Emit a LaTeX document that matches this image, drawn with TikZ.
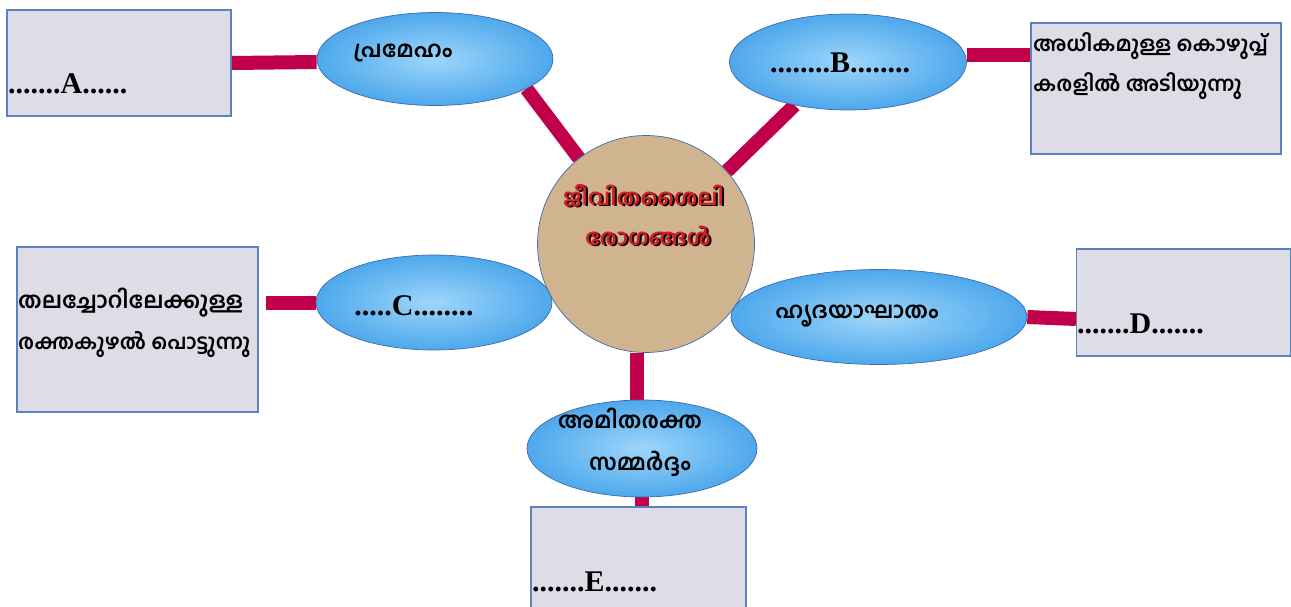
\documentclass[tikz,border=0pt]{standalone}
\usepackage{fontspec}
\setmainfont{Liberation Serif}
\newfontfamily\mlfont[Script=Malayalam]{Hind Kochi}
\usetikzlibrary{shapes.geometric,calc,backgrounds}
\definecolor{boxfill}{HTML}{DEDCE6}
\definecolor{boxline}{HTML}{5A82BE}
\definecolor{ellline}{HTML}{3C6AAE}
\definecolor{connc}{HTML}{C0004A}
\definecolor{skyA}{HTML}{9ED6FA}
\definecolor{skyB}{HTML}{4EA8EC}
\definecolor{tanc}{HTML}{D0B490}
\definecolor{redt}{HTML}{D41F22}
\begin{document}
\begin{tikzpicture}[x=1pt,y=-1pt,
  box/.style={draw=boxline, line width=1.1pt, fill=boxfill, rectangle, inner sep=0pt},
  cloud/.style={ellipse, draw=ellline, line width=0.7pt, inner sep=0pt, inner color=skyA, outer color=skyB},
  link/.style={draw=connc, line width=14pt},
  ml/.style={font=\mlfont\bfseries\fontsize{22.5}{26}\selectfont, inner sep=0pt},
  mls/.style={font=\mlfont\bfseries\fontsize{20.8}{26}\selectfont, inner sep=0pt},
  lat/.style={font=\bfseries\fontsize{30}{34}\selectfont, inner sep=0pt},
  ctr/.style={font=\mlfont\bfseries\fontsize{22.5}{26}\selectfont, inner sep=0pt, anchor=base}]
\useasboundingbox (0,0) rectangle (1291,607);
% boxes
\node[box, minimum width=224pt, minimum height=106pt] (boxA) at (119,63) {};
\node[box, minimum width=250pt, minimum height=131pt] (boxB) at (1156,88.5) {};
\node[box, minimum width=241pt, minimum height=165pt] (boxC) at (137.5,329.5) {};
\node[box, minimum width=214pt, minimum height=107pt] (boxD) at (1183.5,302.5) {};
\node[box, minimum width=215pt, minimum height=112pt] (boxE) at (638.5,563) {};
% centre circle
\node[circle, draw=ellline, line width=0.7pt, fill=tanc, minimum size=217pt, inner sep=0pt] (circ) at (646,244) {};
% ellipses
\node[cloud, minimum width=236pt, minimum height=93pt] (ellP) at (435,59) {};
\node[cloud, minimum width=237pt, minimum height=96pt] (ellB) at (848,62) {};
\node[cloud, minimum width=236pt, minimum height=95pt] (ellC) at (434,302.5) {};
\node[cloud, minimum width=296pt, minimum height=95pt] (ellD) at (879,317) {};
\node[cloud, minimum width=230pt, minimum height=97pt] (ellE) at (642,448.5) {};
% connectors
\begin{scope}[on background layer]
\draw[link] (boxA.east) -- ([yshift=-3pt]ellP.west);
\draw[link] (ellP.-18) -- (circ.128);
\draw[link] (ellB.219) -- (circ.42);
\draw[link] ([yshift=7pt]ellB.east) -- ([yshift=7pt]ellB.east -| boxB.west);
\draw[link] ([xshift=7pt]boxC.east |- ellC.west) -- (ellC.west);
\draw[link] (ellD.east) -- ([yshift=-2pt]ellD.east -| boxD.west);
\draw[link] (circ.south -| 636.5,0) -- (ellE.north -| 636.5,0);
\draw[link] (ellE.south) -- (ellE.south |- boxE.north);
\end{scope}
% texts
\node[ml, anchor=base] (tP) at (403,58) {പ്രമേഹം};
\node[lat, anchor=base] (tB) at (840,73) {........B........};
\node[mls, anchor=base west] (tB1) at (1033,52) {അധികമുള്ള കൊഴുപ്പ്};
\node[mls, anchor=base west] (tB2) at (1033,92) {കരളിൽ അടിയുന്നു};
\node[ctr, text=black] (sh1) at (645.5,206.5) {ജീവിതശൈലി};
\node[ctr, text=redt] (tM1) at (643.5,205) {ജീവിതശൈലി};
\node[ctr, text=black] (sh2) at (650,246.5) {രോഗങ്ങൾ};
\node[ctr, text=redt] (tM2) at (648,245) {രോഗങ്ങൾ};
\node[ml, anchor=base west] (tC1) at (18,308) {തലച്ചോറിലേക്കുള്ള};
\node[mls, anchor=base west] (tC2) at (18,349) {രക്തകുഴൽ പൊട്ടുന്നു};
\node[lat, anchor=base] (tC) at (414,315) {.....C........};
\node[ml, anchor=base] (tD) at (857,318) {ഹൃദയാഘാതം};
\node[lat, anchor=base west] (tDd) at (1077,333) {.......D.......};
\node[ml, anchor=base] (tE1) at (630,428) {അമിതരക്ത};
\node[ml, anchor=base] (tE2) at (640,470) {സമ്മർദ്ദം};
\node[lat, anchor=base west] (tA) at (8,94) {.......A......};
\node[lat, anchor=base west] (tE) at (532,591) {.......E.......};
\end{tikzpicture}
\end{document}
